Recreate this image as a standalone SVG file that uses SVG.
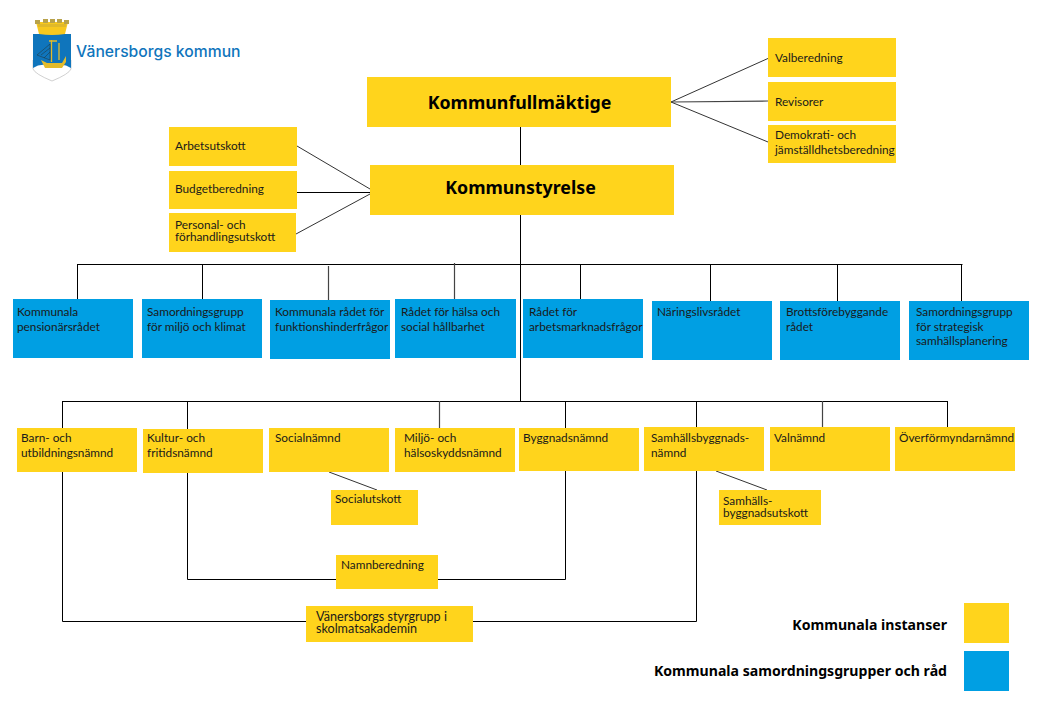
<svg xmlns="http://www.w3.org/2000/svg" width="1040" height="720" viewBox="0 0 1040 720">
<style>
.y{fill:#ffd41c}.b{fill:#009fe3}
.t{font-family:"Lato","Noto Sans",sans-serif;font-size:11.800px;fill:#1a1a1a}
.h{font-family:"Noto Sans","Open Sans",sans-serif;font-weight:700;fill:#000}
.c{fill:none;stroke:#000;stroke-width:1}
.g{fill:none;stroke:#444;stroke-width:1.200}
.d{fill:none;stroke:#333;stroke-width:1}
</style>
<rect width="1040" height="720" fill="#fff"/>
<g id="connectors">
<path class="c" d="M520.500 127V402M77.500 264.500H962.500M77.500 264V299M202.500 264V299M580.500 264V299M710.500 264V301M837.500 264V301M961.500 264V301"/>
<path class="g" d="M328.500 266V300M454.500 263V299"/>
<path class="c" d="M62 401.500H947.500M62.500 401V428M187.500 401V429M565.500 401V428M696.500 401V427M947.500 401V427"/>
<path class="g" d="M439.500 401V428M822.500 401V427"/>
<path class="d" d="M671 102L769 58M671 102L768 142M297 146L370 189M296 234L370 194M329 472L377 490M716 471L767 490"/>
<path class="g" d="M671 102L768 101"/>
<path class="c" d="M297 192.500H370"/>
<path class="c" d="M62.500 471V621.500H306M696.500 470V621.500H473M187.500 472V579.500H336M565.500 471V579.500H438"/>
</g>
<g id="logo">
<path d="M33 60H71V69Q69 74 52 81Q35 74 33 69Z" fill="#fff" stroke="#bbb" stroke-width="0.700"/>
<path d="M33 34H71V68Q62 62 52 67Q42 62 33 68Z" fill="#0f75bc"/>
<path d="M39 34L36 22H68L65 34Q52 36 39 34Z" fill="#f7c81e"/>
<path d="M35 20H40V24H35ZM43 19H48V23H43ZM50 19H55V23H50ZM57 19H62V23H57ZM64 20H69V24H64Z" fill="#b8a24a"/>
<path d="M38 24H66V27H38Z" fill="#e0b92a"/>
<path d="M41 60L47 63H62L66 56V62L62 68H45Z" fill="#e3bb2b"/>
<path d="M51.500 40V62M59 43V60M49 41H57" stroke="#e3bb2b" stroke-width="1.300" fill="none"/>
<path d="M37 55L50 44V60ZM41 55L50 48M44 58L50 52" stroke="#233" stroke-width="0.500" fill="none"/>
<text x="76" y="57" font-family="Inter,'Liberation Sans',sans-serif" font-size="15.700" font-weight="500" fill="#0f75bc">Vänersborgs kommun</text>
</g>
<g id="kf"><rect class="y" x="367" y="77" width="304" height="50"/><text class="h" x="519.500" y="108.500" font-size="17.800" text-anchor="middle">Kommunfullmäktige</text></g>
<g id="ks"><rect class="y" x="370" y="165" width="304" height="50"/><text class="h" x="520.500" y="193.500" font-size="17.800" text-anchor="middle">Kommunstyrelse</text></g>
<g id="valberedning"><rect class="y" x="768" y="38" width="128" height="39"/><text class="t" x="775" y="62">Valberedning</text></g>
<g id="revisorer"><rect class="y" x="768" y="82" width="128" height="39"/><text class="t" x="775" y="106">Revisorer</text></g>
<g id="demokrati"><rect class="y" x="768" y="125" width="128" height="38"/><text class="t" x="775" y="139">Demokrati- och</text><text class="t" x="775" y="154">jämställdhetsberedning</text></g>
<g id="arbetsutskott"><rect class="y" x="169" y="127" width="128" height="39"/><text class="t" x="175" y="150">Arbetsutskott</text></g>
<g id="budget"><rect class="y" x="169" y="171" width="128" height="38"/><text class="t" x="175" y="193">Budgetberedning</text></g>
<g id="personal"><rect class="y" x="169" y="213" width="127" height="39"/><text class="t" x="175" y="229">Personal- och</text><text class="t" x="175" y="241">förhandlingsutskott</text></g>
<g id="b1"><rect class="b" x="13" y="299" width="120" height="59"/><text class="t" x="17" y="316">Kommunala</text><text class="t" x="17" y="331">pensionärsrådet</text></g>
<g id="b2"><rect class="b" x="142" y="299" width="120" height="59"/><text class="t" x="147" y="316">Samordningsgrupp</text><text class="t" x="147" y="331">för miljö och klimat</text></g>
<g id="b3"><rect class="b" x="270" y="300" width="120" height="59"/><text class="t" x="275" y="316">Kommunala rådet för</text><text class="t" x="275" y="331">funktionshinderfrågor</text></g>
<g id="b4"><rect class="b" x="395" y="299" width="121" height="59"/><text class="t" x="401" y="316">Rådet för hälsa och</text><text class="t" x="401" y="331">social hållbarhet</text></g>
<g id="b5"><rect class="b" x="523" y="299" width="120" height="59"/><text class="t" x="529" y="316">Rådet för</text><text class="t" x="529" y="331">arbetsmarknadsfrågor</text></g>
<g id="b6"><rect class="b" x="652" y="301" width="120" height="59"/><text class="t" x="657" y="316">Näringslivsrådet</text></g>
<g id="b7"><rect class="b" x="780" y="301" width="120" height="59"/><text class="t" x="786" y="316">Brottsförebyggande</text><text class="t" x="786" y="331">rådet</text></g>
<g id="b8"><rect class="b" x="909" y="301" width="120" height="59"/><text class="t" x="916" y="316">Samordningsgrupp</text><text class="t" x="916" y="331">för strategisk</text><text class="t" x="916" y="345">samhällsplanering</text></g>
<g id="n1"><rect class="y" x="17" y="428" width="120" height="44"/><text class="t" x="21" y="442">Barn- och</text><text class="t" x="21" y="457">utbildningsnämnd</text></g>
<g id="n2"><rect class="y" x="143" y="429" width="120" height="44"/><text class="t" x="147" y="442">Kultur- och</text><text class="t" x="147" y="457">fritidsnämnd</text></g>
<g id="n3"><rect class="y" x="269" y="428" width="120" height="44"/><text class="t" x="275" y="442">Socialnämnd</text></g>
<g id="n4"><rect class="y" x="395" y="428" width="120" height="44"/><text class="t" x="404" y="442">Miljö- och</text><text class="t" x="404" y="457">hälsoskyddsnämnd</text></g>
<g id="n5"><rect class="y" x="519" y="428" width="120" height="43"/><text class="t" x="523" y="442">Byggnadsnämnd</text></g>
<g id="n6"><rect class="y" x="644" y="427" width="120" height="44"/><text class="t" x="651" y="442">Samhällsbyggnads-</text><text class="t" x="651" y="457">nämnd</text></g>
<g id="n7"><rect class="y" x="770" y="427" width="120" height="44"/><text class="t" x="774" y="442">Valnämnd</text></g>
<g id="n8"><rect class="y" x="895" y="427" width="120" height="44"/><text class="t" x="899" y="442">Överförmyndarnämnd</text></g>
<g id="socialutskott"><rect class="y" x="331" y="490" width="87" height="35"/><text class="t" x="335" y="503">Socialutskott</text></g>
<g id="samhallsutskott"><rect class="y" x="719" y="490" width="102" height="35"/><text class="t" x="723" y="505">Samhälls-</text><text class="t" x="723" y="517">byggnadsutskott</text></g>
<g id="namnberedning"><rect class="y" x="336" y="555" width="102" height="34"/><text class="t" x="341" y="569">Namnberedning</text></g>
<g id="skolmat"><rect class="y" x="306" y="606" width="167" height="36"/><text class="t" x="316" y="621" style="font-size:12.600px">Vänersborgs styrgrupp i</text><text class="t" x="316" y="633" style="font-size:12.600px">skolmatsakademin</text></g>
<g id="legend">
<rect class="y" x="964" y="603" width="45" height="40"/>
<rect class="b" x="964" y="651" width="45" height="40"/>
<text class="h" x="947" y="630" font-size="14.100" text-anchor="end">Kommunala instanser</text>
<text class="h" x="947" y="676" font-size="14.100" text-anchor="end">Kommunala samordningsgrupper och råd</text>
</g>
</svg>
